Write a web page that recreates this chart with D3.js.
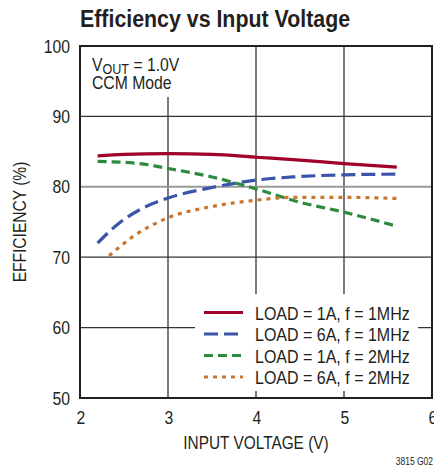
<!DOCTYPE html>
<html><head><meta charset="utf-8">
<script src="https://cdn.jsdelivr.net/npm/d3@7/dist/d3.min.js"></script>
<style>
body{margin:0;background:#fff;}
text{font-family:"Liberation Sans",Arial,sans-serif;fill:#231f20;}
</style></head><body>
<svg id="c" width="434" height="472"></svg>
<script>
const xTicks = [2,3,4,5,6];
const yTicks = [50,60,70,80,90,100];
const seriesNames = ["LOAD = 1A, f = 1MHz","LOAD = 6A, f = 1MHz","LOAD = 1A, f = 2MHz","LOAD = 6A, f = 2MHz"];
const seriesColors = ["#a0002a","#3a55a8","#2e8b3e","#c9772e"];
const seriesDash = [null,"14,6","9,5","4,5"];
const s1 = [[2.2,84.4],[2.5,84.6],[3.0,84.7],[3.5,84.6],[4.0,84.2],[4.5,83.8],[5.0,83.3],[5.6,82.8]];
const s2 = [[2.2,72.0],[2.45,74.9],[2.72,77.0],[3.0,78.4],[3.5,79.9],[4.0,80.95],[4.42,81.4],[5.0,81.7],[5.6,81.8]];
const s3 = [[2.2,83.6],[2.68,83.3],[3.0,82.6],[3.5,81.4],[4.0,79.7],[4.5,77.8],[5.0,76.4],[5.6,74.4]];
const s4 = [[2.33,70.2],[2.61,73.0],[3.0,75.6],[3.5,77.2],[4.0,78.1],[4.42,78.5],[5.0,78.5],[5.6,78.35]];
const series = [s1,s2,s3,s4];

const svg = d3.select("#c");
const L=80,R=432,T=46,B=398;
const x = d3.scaleLinear().domain([2,6]).range([L,R]);
const y = d3.scaleLinear().domain([50,100]).range([B,T]);
const SX = 0.9;

function txt(px,py,str,size,anchor,sx,rot){
  const t = svg.append("text")
    .attr("transform",`translate(${px},${py})`+(rot?` rotate(${rot})`:"")+` scale(${sx||SX},1)`)
    .attr("font-size",size).attr("text-anchor",anchor||"start");
  if(str!==null) t.text(str);
  return t;
}

txt(80,27,"Efficiency vs Input Voltage",24,"start",0.89).attr("font-weight","bold");

// grid
const g = svg.append("g");
g.selectAll(".vg").data(xTicks.slice(1,-1)).enter().append("line")
 .attr("x1",d=>x(d)).attr("x2",d=>x(d)).attr("y1",T).attr("y2",B)
 .attr("stroke","#333").attr("stroke-width",1.3);
g.selectAll(".hg").data(yTicks.slice(1,-1)).enter().append("line")
 .attr("x1",L).attr("x2",R).attr("y1",d=>y(d)).attr("y2",d=>y(d))
 .attr("stroke",d=>d===80?"#999":"#333").attr("stroke-width",d=>d===80?2:1.3);

// curves
const line = d3.line().x(d=>x(d[0])).y(d=>y(d[1])).curve(d3.curveMonotoneX);
series.forEach((s,i)=>{
  svg.append("path").attr("d",line(s)).attr("fill","none")
   .attr("stroke",seriesColors[i]).attr("stroke-width",3.2)
   .attr("stroke-dasharray",seriesDash[i]);
});

// annotation box
svg.append("rect").attr("x",L+1).attr("y",T+1).attr("width",97).attr("height",50).attr("fill","#fff");
const ann = txt(92,71,null,17.5);
ann.append("tspan").text("V");
ann.append("tspan").attr("font-size",14).attr("dy",3).text("OUT");
ann.append("tspan").attr("dy",-3).text(" = 1.0V");
txt(92,89,"CCM Mode",17.5);

// legend
svg.append("rect").attr("x",195).attr("y",294).attr("width",223).attr("height",97).attr("fill","#fff");
seriesNames.forEach((n,i)=>{
  const ly = 312.5 + i*21.5;
  svg.append("line").attr("x1",204).attr("x2",243).attr("y1",ly).attr("y2",ly)
   .attr("stroke",seriesColors[i]).attr("stroke-width",3.2).attr("stroke-dasharray",seriesDash[i]);
  txt(255,ly+7,n,18,"start",0.89);
});

// frame
svg.append("rect").attr("x",L).attr("y",T).attr("width",R-L).attr("height",B-T)
 .attr("fill","none").attr("stroke","#231f20").attr("stroke-width",2);

// axes labels
xTicks.forEach(d=>txt(x(d)+1,424,String(d),17.5,"middle"));
yTicks.forEach(d=>txt(70,y(d)+6.5,String(d),17.5,"end"));
txt(256,449,"INPUT VOLTAGE (V)",17.5,"middle",0.88);
txt(26,222,"EFFICIENCY (%)",17.5,"middle",0.89,-90);
txt(433,465,"3815 G02",10,"end",0.85);
</script></body></html>
